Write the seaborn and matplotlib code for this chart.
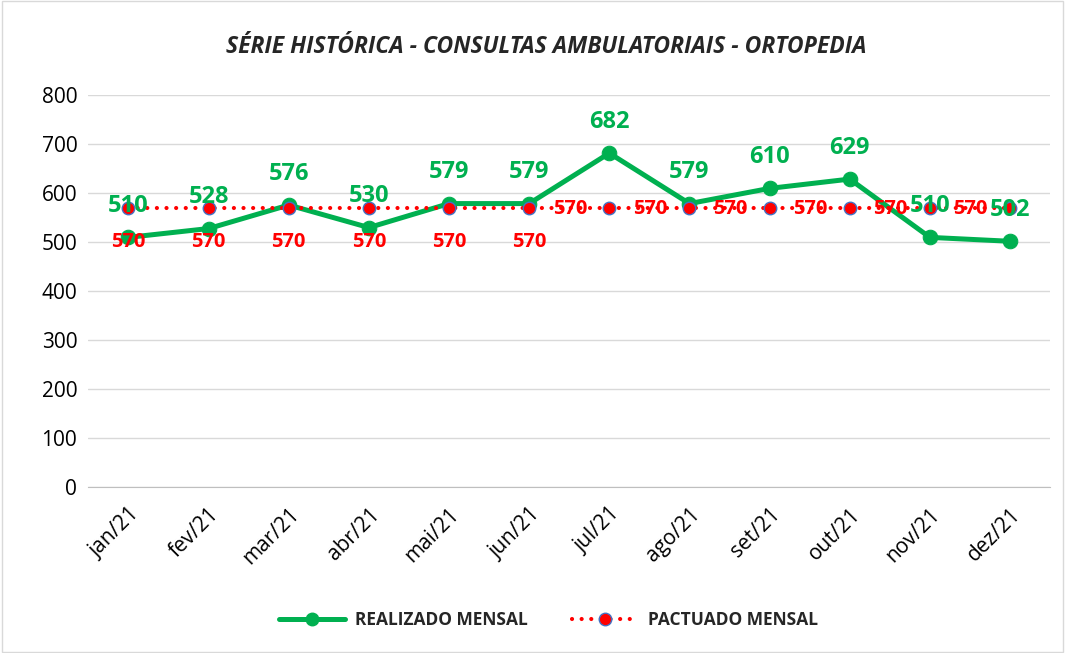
import numpy as np
import pandas as pd
import seaborn as sns
import matplotlib.pyplot as plt
from matplotlib.patches import Rectangle
from matplotlib.lines import Line2D

# data
meses = ["jan/21", "fev/21", "mar/21", "abr/21", "mai/21", "jun/21",
         "jul/21", "ago/21", "set/21", "out/21", "nov/21", "dez/21"]
realizado = [510, 528, 576, 530, 579, 579, 682, 579, 610, 629, 510, 502]
pactuado = [570] * 12

verde = "#00B050"
vermelho = "#FF0000"

sns.set_style("white")
plt.rcParams["font.family"] = ["Open Sans", "DejaVu Sans"]

df = pd.DataFrame({"mes": meses, "x": np.arange(len(meses)),
                   "realizado": realizado, "pactuado": pactuado})

fig = plt.figure(figsize=(10.65, 6.53), dpi=100)
ax = fig.add_axes([0.083, 0.254, 0.903, 0.6])

pontilhado = (0, (0.01, 2.3))

sns.lineplot(data=df, x="x", y="realizado", ax=ax, color=verde, lw=3.6,
             marker="o", markersize=10.5, markeredgecolor=verde, zorder=3)
sns.lineplot(data=df, x="x", y="pactuado", ax=ax, color=vermelho, lw=3,
             linestyle=pontilhado, marker="o", markersize=9,
             markerfacecolor=vermelho, markeredgecolor="#4472C4",
             markeredgewidth=1, zorder=4)
ax.lines[1].set_dash_capstyle("round")

# data labels
for i, v in enumerate(realizado):
    ax.annotate(str(v), (i, v), xytext=(0, 14), textcoords="offset points",
                ha="center", va="bottom", color=verde, fontsize=17,
                fontweight="bold", zorder=6)
for i, v in enumerate(pactuado):
    if i < 6:
        ax.annotate(str(v), (i, v), xytext=(0, -17), textcoords="offset points",
                    ha="center", va="top", color=vermelho, fontsize=14.5,
                    fontweight="bold", zorder=6)
    else:
        ax.annotate(str(v), (i, v), xytext=(-16, -1), textcoords="offset points",
                    ha="right", va="center", color=vermelho, fontsize=14.5,
                    fontweight="bold", zorder=6)

ax.set_xlim(-0.5, len(meses) - 0.5)
ax.set_ylim(0, 800)
ax.set_yticks(range(0, 801, 100))
ax.yaxis.grid(True, color="#D9D9D9", lw=1)
ax.set_axisbelow(True)
ax.set_xticks(range(len(meses)))
ax.set_xticklabels(meses, rotation=45, ha="right", rotation_mode="anchor")
ax.set_xticks(np.arange(-0.5, len(meses)), minor=True)
ax.tick_params(axis="x", which="major", length=0, labelsize=15, pad=12,
               labelcolor="black")
ax.tick_params(axis="x", which="minor", length=6, color="#BFBFBF", width=1)
ax.tick_params(axis="y", length=0, labelsize=15, pad=8, labelcolor="black")
ax.set_xlabel("")
ax.set_ylabel("")
for s in ["top", "right", "left"]:
    ax.spines[s].set_visible(False)
ax.spines["bottom"].set_color("#BFBFBF")

fig.text(0.513, 0.928, "SÉRIE HISTÓRICA - CONSULTAS AMBULATORIAIS - ORTOPEDIA",
         ha="center", va="center", fontsize=16.5, fontweight="bold",
         fontstyle="italic")

handles = [
    Line2D([], [], color=verde, lw=3.6, marker="o", markersize=9),
    Line2D([], [], color=vermelho, lw=3, linestyle=pontilhado,
           dash_capstyle="round", marker="o", markersize=9,
           markerfacecolor=vermelho, markeredgecolor="#4472C4"),
]
fig.legend(handles, ["REALIZADO MENSAL", "PACTUADO MENSAL"], loc="center",
           bbox_to_anchor=(0.515, 0.05), ncol=2, frameon=False,
           prop={"weight": "bold", "size": 12.5}, handlelength=3.8,
           columnspacing=2.5, handletextpad=0.6)

fig.patches.append(Rectangle((0.002, 0.002), 0.996, 0.996, transform=fig.transFigure,
                             fill=False, edgecolor="#D9D9D9", lw=1))

fig.savefig("out.png", dpi=100)
